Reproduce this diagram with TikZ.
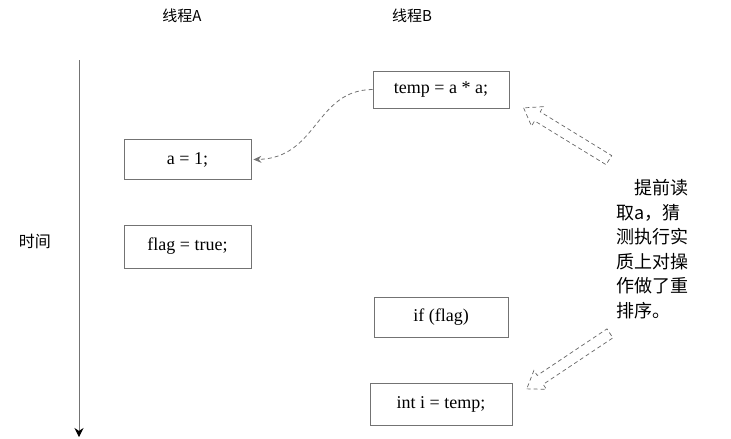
\documentclass[tikz,border=0pt]{standalone}
\usepackage{fontspec}
\setmainfont{Liberation Serif}
\newfontfamily\cjk{Noto Sans CJK SC}
\usetikzlibrary{arrows.meta,shapes.arrows}

\begin{document}
\begin{tikzpicture}[x=1pt, y=-1pt,
    code box/.style={rectangle,draw=black!55,line width=0.8pt,minimum height=40pt,
                     font=\fontsize{18}{20}\selectfont},
    title/.style={font=\cjk\fontsize{15}{18}\selectfont},
    big arrow/.style={single arrow,draw=black!60,dash pattern=on 4pt off 3pt,line width=0.7pt,
                      minimum height=100pt,inner xsep=0pt,inner ysep=5pt,
                      single arrow head extend=6pt,single arrow tip angle=70}]

    \useasboundingbox (0,0) rectangle (731,439);

    \node[title] (threadA) at (182,16) {线程A};
    \node[title] (threadB) at (412,16) {线程B};
    \node[title, font=\cjk\fontsize{16}{18}\selectfont] (time) at (35,241) {时间};

    % time axis
    \coordinate (top) at (79,60);
    \coordinate (bottom) at (79,437);
    \draw[black!55, line width=1pt, -{Stealth[black,length=9pt,width=9pt]}] (top) -- (bottom);

    \node[code box, minimum width=127pt] (a1) at (187.5,159.5) {a = 1;};
    \node[code box, minimum width=127pt, minimum height=43pt] (flag) at (187.5,246.5) {flag = true;};
    \node[code box, minimum width=136pt, minimum height=37pt] (temp) at (441,89.5) {temp = a * a;};
    \node[code box, minimum width=134pt] (if) at (441,317) {if (flag)};
    \node[code box, minimum width=142pt, minimum height=42pt] (int) at (441,404) {int i = temp;};

    \draw[black!55, dash pattern=on 4pt off 3pt, line width=0.8pt, -{Stealth[length=8pt,width=7pt]}]
      (temp.west) .. controls (315,90) and (318,158) .. ([xshift=2pt]a1.east);

    \node[font=\cjk\fontsize{18}{24.5}\selectfont, align=left, inner sep=0pt] (note) at (652,249)
      {\hspace*{1em}提前读\\取a，猜\\测执行实\\质上对操\\作做了重\\排序。};

    \node[big arrow, rotate=148.5] (up) at (569.5,136) {};
    \node[big arrow, rotate=213.7] (down) at (571.5,359) {};
\end{tikzpicture}
\end{document}
